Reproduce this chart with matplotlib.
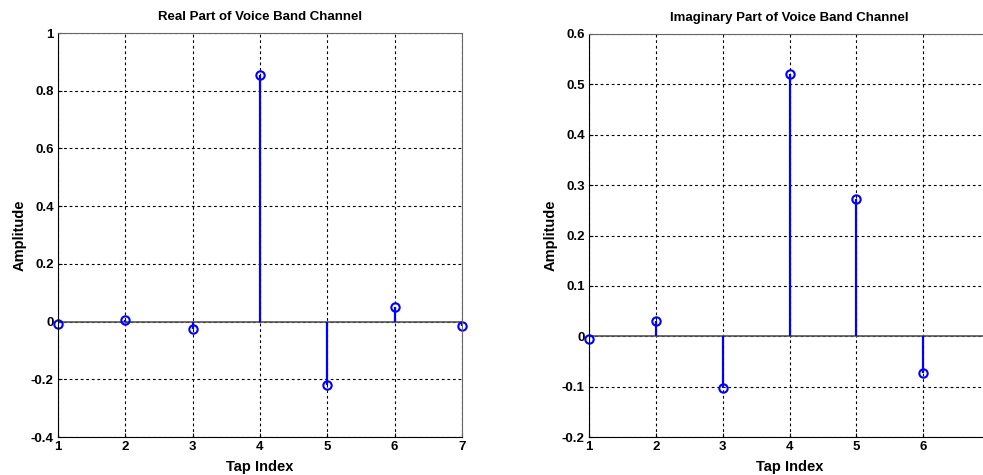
import matplotlib
matplotlib.use("Agg")
import matplotlib.pyplot as plt
import numpy as np

# tap values
taps_real = [1, 2, 3, 4, 5, 6, 7]
real_part = [-0.007, 0.007, -0.027, 0.855, -0.219, 0.049, -0.017]

taps_imag = [1, 2, 3, 4, 5, 6]
imag_part = [-0.005, 0.031, -0.103, 0.520, 0.273, -0.073]

real_yticks = [-0.4, -0.2, 0, 0.2, 0.4, 0.6, 0.8, 1]
imag_yticks = [-0.2, -0.1, 0, 0.1, 0.2, 0.3, 0.4, 0.5, 0.6]
real_xticks = [1, 2, 3, 4, 5, 6, 7]
imag_xticks = [1, 2, 3, 4, 5, 6]   # 7 falls just past the picture edge

plt.rcParams['font.family'] = ['Liberation Sans', 'DejaVu Sans']
plt.rcParams['font.weight'] = 'bold'

fig = plt.figure(figsize=(9.83, 4.75), dpi=100)

ax1 = fig.add_axes([58 / 983, 38 / 475, 404 / 983, 404 / 475])
ax2 = fig.add_axes([589 / 983, 38 / 475, 401 / 983, 403 / 475])


def stem_panel(ax, x, y, ylim, xticks, yticks, title):
    ml, sl, bl = ax.stem(x, y, basefmt=' ')
    plt.setp(sl, color='#0000ff', linewidth=1.6)
    plt.setp(ml, marker='o', markersize=6, markerfacecolor='none',
             markeredgecolor='#0000ff', markeredgewidth=1.5, clip_on=False)
    ax.axhline(0, color='#555555', linewidth=1.2, zorder=1)
    ax.set_xlim(1, 7)
    ax.set_ylim(*ylim)
    ax.set_xticks(xticks)
    ax.set_yticks(yticks)
    ax.set_yticklabels(['%g' % v for v in yticks])
    ax.grid(True, color='black', linestyle=(0, (2.5, 2.5)), linewidth=0.8)
    ax.set_axisbelow(True)
    ax.tick_params(direction='in', length=3, labelsize=9.5, pad=3)
    for lab in ax.get_xticklabels() + ax.get_yticklabels():
        lab.set_fontweight('bold')
    ax.spines['left'].set_color('black')
    ax.spines['bottom'].set_color('black')
    ax.spines['top'].set_color('#666666')
    ax.spines['right'].set_color('#666666')
    ax.set_title(title, fontsize=9.5, fontweight='bold', pad=9)
    ax.set_xlabel('Tap Index', fontsize=10.5, fontweight='bold', labelpad=5)
    ax.set_ylabel('Amplitude', fontsize=10.5, fontweight='bold', labelpad=3)


stem_panel(ax1, taps_real, real_part, (-0.4, 1.0), real_xticks, real_yticks,
           'Real Part of Voice Band Channel')
stem_panel(ax2, taps_imag, imag_part, (-0.2, 0.6), imag_xticks, imag_yticks,
           'Imaginary Part of Voice Band Channel')

fig.savefig('out.png', dpi=100)
